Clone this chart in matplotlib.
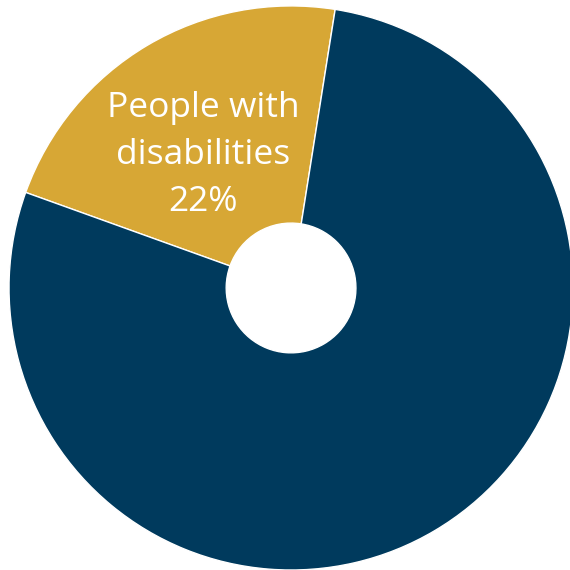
import matplotlib.pyplot as plt

labels = ['People with\ndisabilities', 'People without disabilities']
shares = [22, 78]
colors = ['#D7A735', '#003A5D']

fig = plt.figure(figsize=(5.7, 5.7), dpi=100)
ax = fig.add_axes([0, 0, 1, 1])

wedges, _ = ax.pie(shares, colors=colors, startangle=81, counterclock=True,
                   radius=1.0, wedgeprops=dict(width=0.77, edgecolor='white', linewidth=1))

ax.text(-0.312, 0.472, '%s\n%d%%' % (labels[0], shares[0]), color='white',
        ha='center', va='center', fontsize=25.5, family='Open Sans', linespacing=1.5)

ax.set_xlim(-1.032, 0.989)
ax.set_ylim(-1.0, 1.021)
ax.set_aspect('equal')
ax.axis('off')

fig.savefig('out.png', dpi=100)
